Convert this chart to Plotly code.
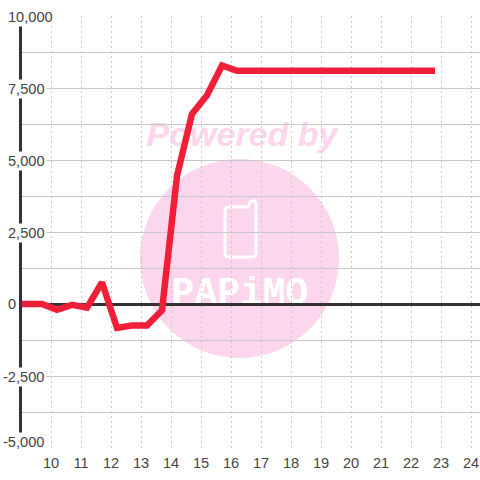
import plotly.graph_objects as go

hours = [8.87, 9.7, 10.2, 10.7, 11.2, 11.7, 12.2, 12.7, 13.2, 13.7, 14.2, 14.7, 15.2, 15.7, 16.2,
         16.7, 17.2, 17.7, 18.2, 18.7, 19.2, 19.7, 20.2, 20.7, 21.2, 21.7, 22.2, 22.8]
values = [0, 0, -200, -30, -130, 750, -830, -750, -750, -220, 4450, 6600, 7250, 8280, 8100,
          8100, 8100, 8100, 8100, 8100, 8100, 8100, 8100, 8100, 8100, 8100, 8100, 8100]
x_ticks = list(range(10, 25))
y_label_values = [10000, 7500, 5000, 2500, 0, -2500, -5000]
y_label_texts = ["10,000", "7,500", "5,000", "2,500", "0", "-2,500", "-5,000"]

W, H = 480, 480
L, R, T, B = 22, 0, 16, 32
FONT = "Liberation Sans"
TXT = "#444444"
PINK = "#fbd6ec"


def px(x):
    return (x - L) / (W - L - R)


def py(y):
    return 1 - (y - T) / (H - T - B)


def P(x, y):
    return f"{px(x):.5f},{py(y):.5f}"


def label_shape(x0, y0, x1, y1, text, family, size, color):
    return dict(type="rect", xref="paper", yref="paper", layer="below",
                x0=px(x0), x1=px(x1), y0=py(y1), y1=py(y0),
                line=dict(width=0), fillcolor="rgba(0,0,0,0)",
                label=dict(text=text, textposition="middle center",
                           font=dict(family=family, size=size, color=color)))


phone = ("M " + P(229, 207) + " L " + P(248, 207) + " L " + P(250, 202)
         + " Q " + P(252, 200) + " " + P(255, 201) + " L " + P(256, 204)
         + " L " + P(256, 253) + " Q " + P(256, 257) + " " + P(252, 257)
         + " L " + P(229, 257) + " Q " + P(225, 257) + " " + P(225, 253)
         + " L " + P(225, 211) + " Q " + P(225, 207) + " " + P(229, 207) + " Z")

shapes = [
    dict(type="circle", xref="paper", yref="paper", layer="below",
         x0=px(140), x1=px(339), y0=py(358), y1=py(159),
         fillcolor=PINK, line=dict(width=0)),
    dict(type="path", xref="paper", yref="paper", layer="below", path=phone,
         line=dict(color="white", width=3), fillcolor="rgba(0,0,0,0)"),
    label_shape(132, 113, 352, 149, "<b><i>Powered by</i></b>", "Liberation Sans", 34, PINK),
    label_shape(160, 267, 320, 307, "<b>PAPiMO</b>", "Liberation Mono", 38, "white"),
]

annotations = []
for v, t in zip(y_label_values, y_label_texts):
    anchor_x = 1 if t.startswith("-") else 6
    annotations.append(dict(
        x=px(anchor_x), xref="paper", y=v, yref="y", text=t, showarrow=False,
        xanchor="left", yanchor="middle", yshift=6 if v == -5000 else (-1 if v != 0 else 0),
        font=dict(family=FONT, size=14.6, color=TXT),
        bgcolor="white", borderpad=1, align="left"))

fig = go.Figure(go.Scatter(
    x=hours, y=values, mode="lines", cliponaxis=False,
    line=dict(color="#f01f38", width=6.5, shape="linear"),
    hoverinfo="skip"))

fig.update_layout(
    width=W, height=H, autosize=False,
    margin=dict(l=L, r=R, t=T, b=B, pad=0),
    paper_bgcolor="white", plot_bgcolor="rgba(0,0,0,0)",
    showlegend=False, shapes=shapes, annotations=annotations,
    xaxis=dict(range=[10 - (51 - L) / 30, 10 + (W - 51) / 30], tickmode="array",
               tickvals=x_ticks, ticktext=[str(t) for t in x_ticks],
               showgrid=True, gridcolor="#c8c8c8", griddash="2px,3px", gridwidth=1,
               zeroline=False, showline=False, ticks="", ticklabelstandoff=4,
               tickfont=dict(family=FONT, size=14.6, color=TXT)),
    yaxis=dict(range=[-5000, 10000], dtick=1250, tick0=0,
               showgrid=True, gridcolor="#c8c8c8", gridwidth=1,
               zeroline=True, zerolinecolor="#333333", zerolinewidth=3,
               showline=True, linecolor="#333333", linewidth=3,
               layer="below traces", ticks="", showticklabels=False),
)

fig.write_html("out.html", config=dict(displayModeBar=False),
               post_script="document.body.style.margin='0';document.body.style.overflow='hidden';")
